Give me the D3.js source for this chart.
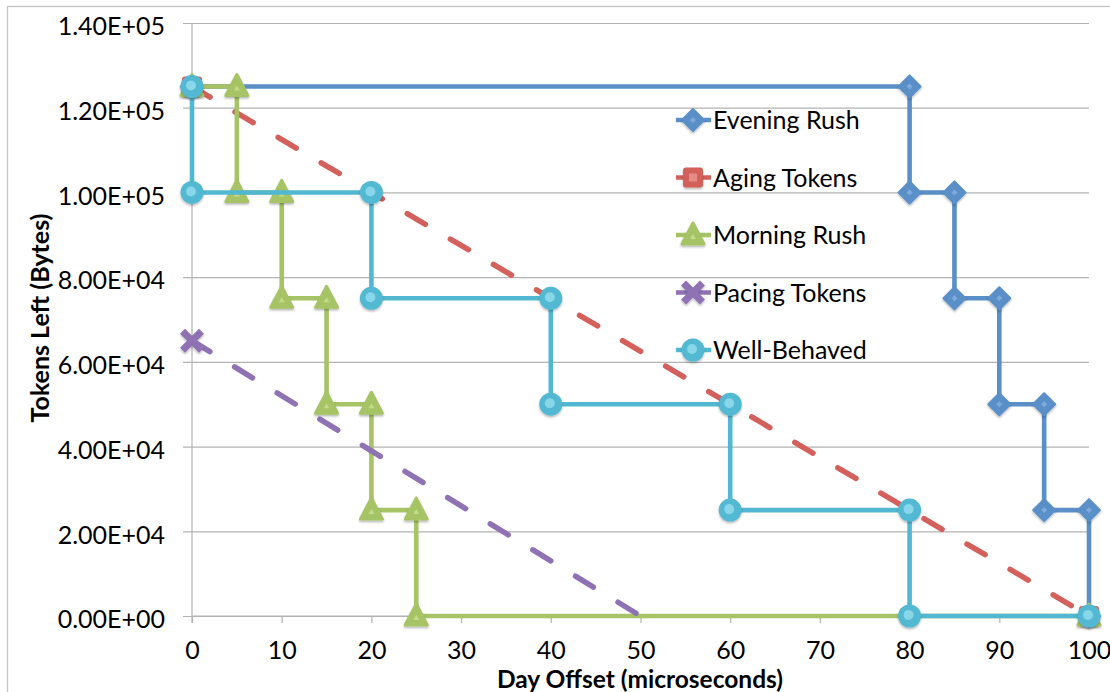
<!DOCTYPE html>
<html>
<head>
<meta charset="utf-8">
<script src="https://cdn.jsdelivr.net/npm/d3@7"></script>
<style>
  html, body { margin: 0; padding: 0; background: #fff; overflow: hidden; }
  svg text { font-family: Lato, "Open Sans", sans-serif; fill: #000; }
</style>
</head>
<body>
<svg id="chart" width="1110" height="692"></svg>
<script>
// Token-bucket drain scenarios: bytes left over the day offset
const seriesNames = ["Evening Rush", "Aging Tokens", "Morning Rush", "Pacing Tokens", "Well-Behaved"];

const eveningRush = [
  [0, 125000], [80, 125000], [80, 100000], [85, 100000], [85, 75000],
  [90, 75000], [90, 50000], [95, 50000], [95, 25000], [100, 25000], [100, 0]
];
const agingTokens = [[0, 125000], [100, 0]];
const morningRush = [
  [0, 125000], [5, 125000], [5, 100000], [10, 100000], [10, 75000],
  [15, 75000], [15, 50000], [20, 50000], [20, 25000], [25, 25000], [25, 0], [100, 0]
];
const pacingTokens = [[0, 65000], [50, 0]];
// Pacing Tokens shows its marker only on the starting point
const pacingMarkerIdx = [0];
const wellBehaved = [
  [0, 125000], [0, 100000], [20, 100000], [20, 75000], [40, 75000],
  [40, 50000], [60, 50000], [60, 25000], [80, 25000], [80, 0], [100, 0]
];

const xTicks = [0, 10, 20, 30, 40, 50, 60, 70, 80, 90, 100];
const yTicks = [0, 20000, 40000, 60000, 80000, 100000, 120000, 140000];
const xTitle = "Day Offset (microseconds)";
const yTitle = "Tokens Left (Bytes)";

const svg = d3.select("#chart");
const W = 1110, H = 692;
const plot = { left: 192, right: 1089, top: 23, bottom: 616 };

const x = d3.scaleLinear().domain([0, 100]).range([plot.left, plot.right]);
const y = d3.scaleLinear().domain([0, 140000]).range([plot.bottom, plot.top]);

// Exponent labels in the spreadsheet style: 1.40E+05
function sci(d) {
  if (d === 0) return "0.00E+00";
  const e = Math.floor(Math.log10(Math.abs(d)));
  const m = d / Math.pow(10, e);
  return m.toFixed(2) + "E" + (e >= 0 ? "+" : "-") + String(Math.abs(e)).padStart(2, "0");
}

// outer frame (only its top and left edges fall inside the view)
svg.append("rect")
  .attr("x", 7.5).attr("y", 6.5).attr("width", W + 20).attr("height", H + 20)
  .attr("fill", "#fff").attr("stroke", "#c4c4c4").attr("stroke-width", 1.3);

// horizontal grid lines + y ticks
const yAxis = d3.axisLeft(y).tickValues(yTicks).tickFormat(sci)
  .tickSize(-(plot.right - plot.left)).tickPadding(27);
const gy = svg.append("g").attr("transform", `translate(${plot.left},0)`).call(yAxis);
gy.select(".domain").remove();
gy.selectAll(".tick line").attr("stroke", "#b3b3b3").attr("stroke-width", 1.2)
  .attr("x1", -9);
gy.selectAll(".tick text").attr("font-size", 25).attr("dy", "0.47em");

// vertical axis line
svg.append("line")
  .attr("x1", plot.left).attr("x2", plot.left)
  .attr("y1", plot.top).attr("y2", plot.bottom + 7)
  .attr("stroke", "#b3b3b3").attr("stroke-width", 1.2);

// x axis
const xAxis = d3.axisBottom(x).tickValues(xTicks).tickSize(7).tickPadding(18);
const gx = svg.append("g").attr("transform", `translate(0,${plot.bottom})`).call(xAxis);
gx.select(".domain").attr("stroke", "#b3b3b3").attr("stroke-width", 1.2)
  .attr("d", `M${plot.left},0H${plot.right}`);
gx.selectAll(".tick line").attr("stroke", "#b3b3b3").attr("stroke-width", 1.2);
gx.selectAll(".tick text").attr("font-size", 25);

// axis titles
svg.append("text")
  .attr("x", 640).attr("y", 688).attr("text-anchor", "middle")
  .attr("font-size", 24.5).attr("font-weight", 700).text(xTitle);
svg.append("text")
  .attr("transform", "translate(49,318) rotate(-90)").attr("text-anchor", "middle")
  .attr("font-size", 25).attr("font-weight", 700).text(yTitle);

// series styles
const styles = {
  "Evening Rush":  { color: "#5a8fc8", light: "#7eaadb", marker: "diamond", dash: null },
  "Aging Tokens":  { color: "#d3605a", light: "#e58c86", marker: "square", dash: "21,29" },
  "Morning Rush":  { color: "#a6c465", light: "#c2db8b", marker: "triangle", dash: null },
  "Pacing Tokens": { color: "#8f72b4", light: "#ad95cc", marker: "cross", dash: "21,29" },
  "Well-Behaved":  { color: "#52b8d2", light: "#88d6ea", marker: "circle", dash: null }
};
const seriesData = {
  "Evening Rush": eveningRush,
  "Aging Tokens": agingTokens,
  "Morning Rush": morningRush,
  "Pacing Tokens": pacingTokens,
  "Well-Behaved": wellBehaved
};
const markerIdx = { "Pacing Tokens": pacingMarkerIdx };

const defs = svg.append("defs");
defs.append("filter").attr("id", "shadow").attr("x", "-50%").attr("y", "-50%")
  .attr("width", "200%").attr("height", "200%")
  .append("feDropShadow").attr("dx", 0).attr("dy", 1.5).attr("stdDeviation", 1.3)
  .attr("flood-color", "#000").attr("flood-opacity", 0.3);

function drawMarker(g, cx, cy, st) {
  const m = g.append("g").attr("transform", `translate(${cx},${cy})`).attr("filter", "url(#shadow)");
  switch (st.marker) {
    case "diamond":
      m.append("path").attr("d", "M0,-11L11,0L0,11L-11,0Z").attr("fill", st.color)
        .attr("stroke", st.color).attr("stroke-width", 2).attr("stroke-linejoin", "round");
      m.append("path").attr("d", "M0,-3L3,0L0,3L-3,0Z").attr("fill", st.light);
      break;
    case "square":
      m.append("rect").attr("x", -10).attr("y", -10).attr("width", 20).attr("height", 20)
        .attr("rx", 3).attr("fill", st.color);
      m.append("rect").attr("x", -4).attr("y", -4).attr("width", 8).attr("height", 8)
        .attr("fill", st.light);
      break;
    case "triangle":
      m.append("path").attr("d", "M0,-12L11,9L-11,9Z").attr("fill", st.color)
        .attr("stroke", st.color).attr("stroke-width", 3).attr("stroke-linejoin", "round");
      m.append("path").attr("d", "M0,-1L3,4L-3,4Z").attr("fill", st.light);
      break;
    case "cross":
      m.append("path").attr("d", "M-7,-7L7,7M7,-7L-7,7").attr("stroke", st.color)
        .attr("stroke-width", 7).attr("stroke-linecap", "square").attr("fill", "none");
      break;
    case "circle":
      m.append("circle").attr("r", 11.5).attr("fill", st.color);
      m.append("circle").attr("cx", -1).attr("cy", -1).attr("r", 5).attr("fill", st.light);
      break;
  }
}

const line = d3.line().x(d => x(d[0])).y(d => y(d[1]));

seriesNames.forEach(name => {
  const st = styles[name];
  const data = seriesData[name];
  const g = svg.append("g");
  const p = g.append("path").datum(data).attr("d", line)
    .attr("fill", "none").attr("stroke", st.color).attr("stroke-width", st.dash ? 5.5 : 4.6)
    .attr("stroke-linejoin", "round");
  if (st.dash) p.attr("stroke-dasharray", st.dash).attr("stroke-linecap", "round");
  const idx = markerIdx[name] || data.map((_, i) => i);
  idx.forEach(i => drawMarker(g, x(data[i][0]), y(data[i][1]), st));
});

// legend (no background, drawn over the plot)
const legendY = d3.scalePoint().domain(seriesNames).range([120, 350]);
const lg = svg.append("g");
seriesNames.forEach(name => {
  const st = styles[name];
  const ly = legendY(name);
  lg.append("line").attr("x1", 676).attr("x2", 711).attr("y1", ly).attr("y2", ly)
    .attr("stroke", st.color).attr("stroke-width", 4.6);
  drawMarker(lg, 693, ly, st);
  lg.append("text").attr("x", 713).attr("y", ly).attr("dy", "0.36em")
    .attr("font-size", 25).text(name);
});
</script>
</body>
</html>
